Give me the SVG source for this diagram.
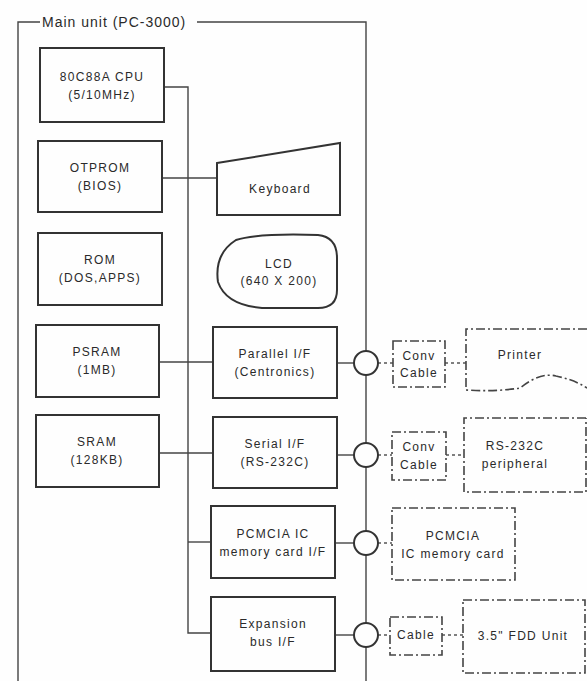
<svg xmlns="http://www.w3.org/2000/svg" width="587" height="681" viewBox="0 0 587 681">
<style>
.box{fill:none;stroke:#333;stroke-width:2}
.ext{fill:none;stroke:#444;stroke-width:1.6;stroke-dasharray:9 3 2 3}
.ln{fill:none;stroke:#444;stroke-width:1.4}
.dl{fill:none;stroke:#555;stroke-width:1.4;stroke-dasharray:3 3}
.t{font-family:"Liberation Sans",Arial,sans-serif;font-size:12px;letter-spacing:1.3px;fill:#2a2a2a;text-anchor:middle}
</style>
<rect width="587" height="681" fill="#fefefe"/>
<g id="frame">
<path class="ln" d="M40,22 H18 V681 M197,22 H366 V351 M366,375 V443 M366,467 V531 M366,555 V623 M366,647 V681"/>
<text x="42" y="27" style="font-family:'Liberation Sans',Arial,sans-serif;font-size:14px;letter-spacing:1px;fill:#2a2a2a">Main unit (PC-3000)</text>
</g>
<g id="connectors">
<path class="ln" d="M163,87 H188 V633 H212"/>
<path class="ln" d="M162,178 H217"/>
<path class="ln" d="M159,362 H213"/>
<path class="ln" d="M159,453 H213"/>
<path class="ln" d="M188,542 H211"/>
<path class="ln" d="M337,363 H354"/>
<path class="ln" d="M337,455 H354"/>
<path class="ln" d="M335,543 H354"/>
<path class="ln" d="M335,635 H354"/>
<path class="dl" d="M378,363 H393 M445,363 H466"/>
<path class="dl" d="M378,455 H392 M446,455 H464"/>
<path class="dl" d="M378,543 H392"/>
<path class="dl" d="M378,635 H390 M442,635 H463"/>
</g>
<g id="ports">
<circle cx="366" cy="363" r="12" class="box"/>
<circle cx="366" cy="455" r="12" class="box"/>
<circle cx="366" cy="543" r="12" class="box"/>
<circle cx="366" cy="635" r="12" class="box"/>
</g>
<g id="cpu"><rect class="box" x="40" y="48" width="124" height="74"/><text class="t" x="102" y="81">80C88A CPU</text><text class="t" x="102" y="99">(5/10MHz)</text></g>
<g id="otprom"><rect class="box" x="38" y="141" width="124" height="71"/><text class="t" x="100" y="172">OTPROM</text><text class="t" x="100" y="190">(BIOS)</text></g>
<g id="rom"><rect class="box" x="38" y="233" width="124" height="72"/><text class="t" x="100" y="264">ROM</text><text class="t" x="100" y="282">(DOS,APPS)</text></g>
<g id="psram"><rect class="box" x="36" y="325" width="123" height="72"/><text class="t" x="97" y="356">PSRAM</text><text class="t" x="97" y="374">(1MB)</text></g>
<g id="sram"><rect class="box" x="36" y="415" width="123" height="72"/><text class="t" x="97" y="446">SRAM</text><text class="t" x="97" y="464">(128KB)</text></g>
<g id="keyboard"><polygon class="box" points="217,163 340,143 340,215 217,215"/><text class="t" x="280" y="193">Keyboard</text></g>
<g id="lcd"><path class="box" d="M236,240 Q258,233 318,235 Q337,237 337,258 L337,290 Q337,308 318,308 L262,308 Q226,305 218,282 Q214,254 236,240 Z"/><text class="t" x="279" y="268">LCD</text><text class="t" x="279" y="285">(640 X 200)</text></g>
<g id="parallel"><rect class="box" x="213" y="327" width="124" height="71"/><text class="t" x="275" y="358">Parallel I/F</text><text class="t" x="275" y="376">(Centronics)</text></g>
<g id="serial"><rect class="box" x="213" y="417" width="124" height="71"/><text class="t" x="275" y="448">Serial I/F</text><text class="t" x="275" y="466">(RS-232C)</text></g>
<g id="pcmcia-if"><rect class="box" x="211" y="506" width="124" height="72"/><text class="t" x="273" y="538">PCMCIA IC</text><text class="t" x="273" y="556">memory card I/F</text></g>
<g id="expansion"><rect class="box" x="211" y="597" width="124" height="74"/><text class="t" x="273" y="628">Expansion</text><text class="t" x="273" y="646">bus I/F</text></g>
<g id="conv1"><rect class="ext" x="393" y="341" width="52" height="46"/><text class="t" x="419" y="360">Conv</text><text class="t" x="419" y="377">Cable</text></g>
<g id="printer"><path class="ext" d="M587,329 H466 V390 Q495,392 520,388 Q540,372 556,376 Q575,380 587,388"/><text class="t" x="520" y="359">Printer</text></g>
<g id="conv2"><rect class="ext" x="392" y="432" width="54" height="48"/><text class="t" x="419" y="451">Conv</text><text class="t" x="419" y="469">Cable</text></g>
<g id="rs232"><path class="ext" d="M586,418 H464 V492 H586 V418"/><text class="t" x="515" y="450">RS-232C</text><text class="t" x="515" y="468">peripheral</text></g>
<g id="pcmcia-card"><rect class="ext" x="392" y="508" width="123" height="72"/><text class="t" x="453" y="540">PCMCIA</text><text class="t" x="453" y="558">IC memory card</text></g>
<g id="cable"><rect class="ext" x="390" y="617" width="52" height="38"/><text class="t" x="416" y="639">Cable</text></g>
<g id="fdd"><rect class="ext" x="463" y="600" width="122" height="73"/><text class="t" x="523" y="640">3.5" FDD Unit</text></g>
</svg>
